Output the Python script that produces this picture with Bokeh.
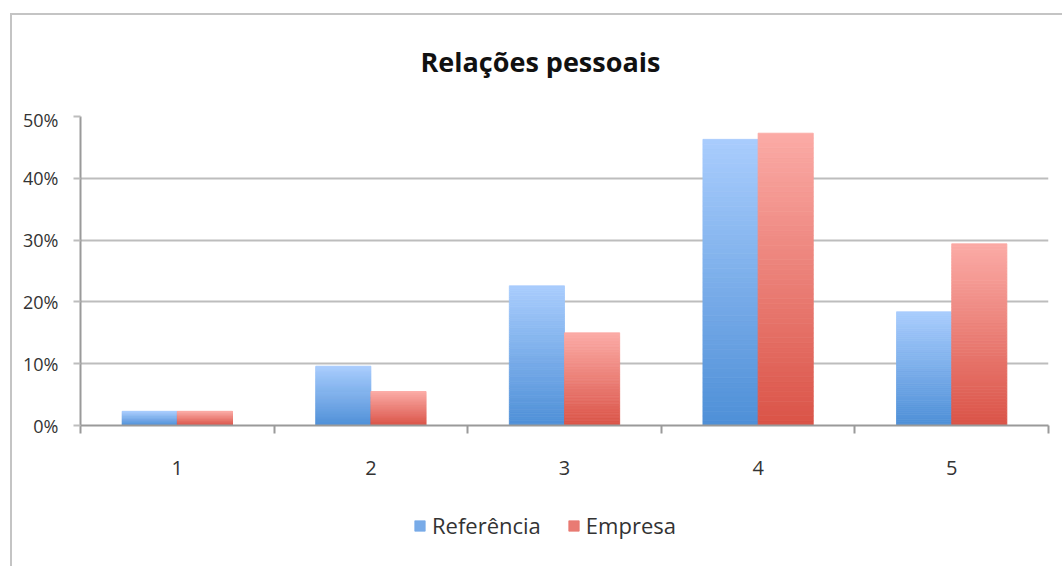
import numpy as np
from bokeh.plotting import figure
from bokeh.layouts import column
from bokeh.models import (ColumnDataSource, FixedTicker, NumeralTickFormatter,
                          Legend, LegendItem, Range1d)
from bokeh.embed import file_html
from bokeh.resources import INLINE

# Data
categories = ["1", "2", "3", "4", "5"]
referencia = [0.023, 0.096, 0.226, 0.463, 0.184]
empresa = [0.023, 0.055, 0.150, 0.473, 0.294]
series_names = ["Referência", "Empresa"]
y_ticks = [0.0, 0.1, 0.2, 0.3, 0.4, 0.5]
title_text = "Relações pessoais"

# Gradient colours (top -> bottom) for each series
blue_top, blue_bottom = (0xA9, 0xCD, 0xFD), (0x4E, 0x8F, 0xD7)
red_top, red_bottom = (0xFB, 0xAB, 0xA6), (0xDA, 0x53, 0x47)

FONT = "Open Sans"
TEXT_COLOR = "#333333"
GRID_COLOR = "#bdbdbd"
AXIS_COLOR = "#9a9a9a"

# Chart area: 10px in from the left, 13px down from the top, with a light
# border on those two sides (2px), so the content starts at (12, 15).
# It is stacked as three strips: title, chart, legend.
OFF_X, OFF_Y = 12, 15
W = 1062 - OFF_X
H_TITLE = 92
H_MAIN = 500 - OFF_Y - H_TITLE
H_LEG = 566 - 500


def bare_strip(height, y_range):
    f = figure(width=W, height=height, output_backend="svg", toolbar_location=None,
               x_range=Range1d(0.5, 5.5), y_range=y_range, min_border=0,
               background_fill_color="white", border_fill_color="white",
               outline_line_color=None)
    f.axis.visible = False
    f.grid.grid_line_color = None
    return f


# Title strip
pt = bare_strip(H_TITLE, Range1d(0, 1))
pt.title.text = title_text
pt.title.text_font = FONT
pt.title.text_font_style = "bold"
pt.title.text_font_size = "27px"
pt.title.text_color = "#111111"
pt.title.align = "left"
pt.title.offset = 420 - 80
pt.title.standoff = 56

# Main chart
p = figure(width=W, height=H_MAIN, output_backend="svg", toolbar_location=None,
           x_range=Range1d(0.5, 5.5), y_range=Range1d(0, 0.5),
           min_border_left=80 - OFF_X, min_border_right=14,
           min_border_top=116 - OFF_Y - H_TITLE, min_border_bottom=500 - 425,
           background_fill_color="white", border_fill_color="white",
           outline_line_color=None)

# Bars, drawn as vertical gradient slices of each bar's own height
N_SLICES = 60
bar_w = 0.285
x_pos = np.arange(1, len(categories) + 1)


def gradient_source(values, offset, c_top, c_bot):
    xs, bottoms, tops, colors = [], [], [], []
    for k in range(N_SLICES):
        f0, f1 = k / N_SLICES, (k + 1) / N_SLICES
        t = (k + 0.5) / N_SLICES  # 0 at bottom, 1 at top
        rgb = tuple(int(round(c_bot[i] + (c_top[i] - c_bot[i]) * t)) for i in range(3))
        col = "#%02x%02x%02x" % rgb
        for xi, v in zip(x_pos, values):
            xs.append(xi + offset)
            bottoms.append(v * f0)
            tops.append(v * f1)
            colors.append(col)
    return ColumnDataSource(dict(x=xs, bottom=bottoms, top=tops, color=colors))


src_ref = gradient_source(referencia, -bar_w / 2, blue_top, blue_bottom)
src_emp = gradient_source(empresa, bar_w / 2, red_top, red_bottom)
bar_style = dict(x="x", bottom="bottom", top="top", width=bar_w,
                 fill_color="color", line_color="color", line_width=0.8)

p.vbar(source=src_ref, **bar_style)
p.vbar(source=src_emp, **bar_style)

# Axes
xa = p.xaxis[0]
xa.ticker = FixedTicker(ticks=list(x_pos), minor_ticks=list(np.arange(0.5, 6.0, 1.0)))
xa.major_label_overrides = {int(i): c for i, c in zip(x_pos, categories)}
xa.major_tick_line_color = None
xa.minor_tick_line_color = AXIS_COLOR
xa.minor_tick_line_width = 2
xa.minor_tick_out = 8
xa.minor_tick_in = 0
xa.axis_line_color = AXIS_COLOR
xa.axis_line_width = 2
xa.major_label_standoff = 27
xa.major_label_text_font = FONT
xa.major_label_text_font_size = "20px"
xa.major_label_text_color = TEXT_COLOR

ya = p.yaxis[0]
ya.ticker = FixedTicker(ticks=y_ticks)
ya.formatter = NumeralTickFormatter(format="0%")
ya.major_tick_line_color = GRID_COLOR
ya.major_tick_line_width = 2
ya.major_tick_out = 7
ya.major_tick_in = 0
ya.minor_tick_line_color = None
ya.axis_line_color = AXIS_COLOR
ya.axis_line_width = 2
ya.major_label_standoff = 15
ya.major_label_text_font = FONT
ya.major_label_text_font_size = "18px"
ya.major_label_text_color = TEXT_COLOR

p.xgrid.grid_line_color = None
p.ygrid.ticker = FixedTicker(ticks=y_ticks[1:])
p.ygrid.grid_line_color = GRID_COLOR
p.ygrid.grid_line_width = 2

# Legend strip under the chart; its keys reuse the bar sources, with the
# strip's y range set above the bar tops so only the legend shows.
pl = bare_strip(H_LEG, Range1d(1, 2))
key_ref = pl.vbar(source=src_ref, **bar_style)
key_emp = pl.vbar(source=src_emp, **bar_style)

mid = int(N_SLICES * 0.45) * len(categories)
legend = Legend(items=[
    LegendItem(label=series_names[0], renderers=[key_ref], index=mid),
    LegendItem(label=series_names[1], renderers=[key_emp], index=mid),
], orientation="horizontal", location=(333, 566 - 540))
legend.label_text_font = FONT
legend.label_text_font_size = "22px"
legend.label_text_color = TEXT_COLOR
legend.glyph_width = 13
legend.glyph_height = 13
legend.spacing = 26
legend.label_standoff = 6
legend.padding = 4
legend.margin = 0
legend.border_line_color = None
legend.background_fill_alpha = 0
pl.add_layout(legend)

layout = column(pt, p, pl, spacing=0,
                styles={"margin-left": "10px", "margin-top": "13px",
                        "border-left": "2px solid #c4c4c4",
                        "border-top": "2px solid #c4c4c4"})

open("out.html", "w").write(file_html(layout, INLINE))
